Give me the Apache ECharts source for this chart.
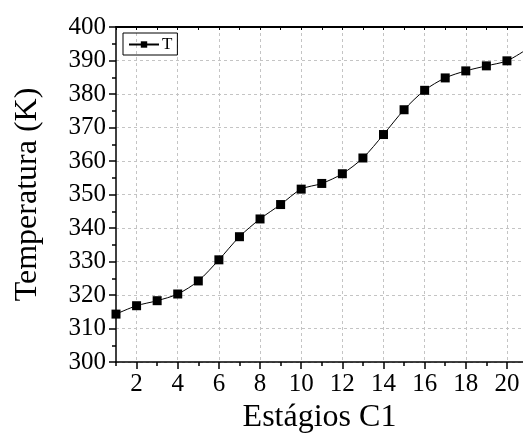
<!DOCTYPE html>
<html>
<head>
<meta charset="utf-8">
<script src="https://cdn.jsdelivr.net/npm/echarts@6/dist/echarts.min.js"></script>
<style>html,body{margin:0;padding:0;background:#fff}#c{width:523px;height:439px}</style>
</head>
<body>
<div id="c"></div>
<script>
var stages = [1,2,3,4,5,6,7,8,9,10,11,12,13,14,15,16,17,18,19,20,21];
var temps = [314.3,316.8,318.3,320.3,324.2,330.5,337.4,342.7,347.0,351.6,353.3,356.2,360.9,367.9,375.3,381.1,384.8,386.9,388.4,389.9,393.5];
var xMajorTicks = [2,4,6,8,10,12,14,16,18,20];
var xMinorTicks = [1,3,5,7,9,11,13,15,17,19];
var xTopTicks = [1,2,3,4,5,6,7,8,9,10,11,12,13,14,15,16,17,18,19,20];
var seriesName = 'T';

var FONT = '"Liberation Serif", "Times New Roman", serif';
var chart = echarts.init(document.getElementById('c'), null, {renderer:'canvas'});
var xMin = 1, xMax = 20.78;
chart.setOption({
  animation:false,
  backgroundColor:'#fff',
  grid:{left:116, top:27, right:0, bottom:75, containLabel:false},
  legend:{
    show:true, left:123, top:33, orient:'vertical',
    borderColor:'#000', borderWidth:1, padding:[3,5,2,5],
    itemWidth:30, itemHeight:8, itemGap:0,
    textStyle:{fontFamily:FONT, fontSize:17, color:'#000', padding:[0,0,0,-2]},
    data:[seriesName]
  },
  xAxis:[{
    type:'value', min:xMin, max:xMax, position:'bottom',
    name:'Estágios C1', nameLocation:'middle', nameGap:40,
    nameTextStyle:{fontFamily:FONT, fontSize:32, color:'#000'},
    axisLine:{show:true, onZero:false, lineStyle:{color:'#000', width:1.5}},
    axisTick:{show:true, inside:false, length:7, customValues:xMajorTicks, lineStyle:{color:'#000', width:1.5}},
    axisLabel:{show:true, customValues:xMajorTicks, margin:10, fontFamily:FONT, fontSize:25, color:'#000'},
    splitLine:{show:true, lineStyle:{color:'#c4c4c4', type:[3,3], width:1}}
  },{
    type:'value', min:xMin, max:xMax, position:'bottom',
    axisLine:{show:false},
    axisTick:{show:true, inside:false, length:4, customValues:xMinorTicks, lineStyle:{color:'#000', width:1.5}},
    axisLabel:{show:false},
    splitLine:{show:false}
  },{
    type:'value', min:xMin, max:xMax, position:'top',
    axisLine:{show:true, onZero:false, lineStyle:{color:'#000', width:2}},
    axisTick:{show:true, inside:true, length:3, customValues:xTopTicks, lineStyle:{color:'#000', width:1}},
    axisLabel:{show:false},
    splitLine:{show:false}
  }],
  yAxis:{
    type:'value', min:300, max:400, interval:10,
    name:'Temperatura (K)', nameLocation:'middle', nameGap:72, nameRotate:90,
    nameTextStyle:{fontFamily:FONT, fontSize:32, color:'#000'},
    axisLine:{show:true, onZero:false, lineStyle:{color:'#000', width:1.5}},
    axisTick:{show:true, inside:false, length:7, lineStyle:{color:'#000', width:1.5}},
    minorTick:{show:true, splitNumber:2, length:4, lineStyle:{color:'#000', width:1.5}},
    axisLabel:{margin:10, fontFamily:FONT, fontSize:25, color:'#000'},
    splitLine:{show:true, lineStyle:{color:'#c4c4c4', type:[3,3], width:1}}
  },
  series:[{
    name:seriesName, type:'line', xAxisIndex:0,
    data: stages.map(function(s,i){return [s, temps[i]];}),
    smooth:0.3, clip:true,
    symbol:'rect', symbolSize:9,
    itemStyle:{color:'#000'},
    lineStyle:{color:'#000', width:1}
  }]
});
</script>
</body>
</html>
